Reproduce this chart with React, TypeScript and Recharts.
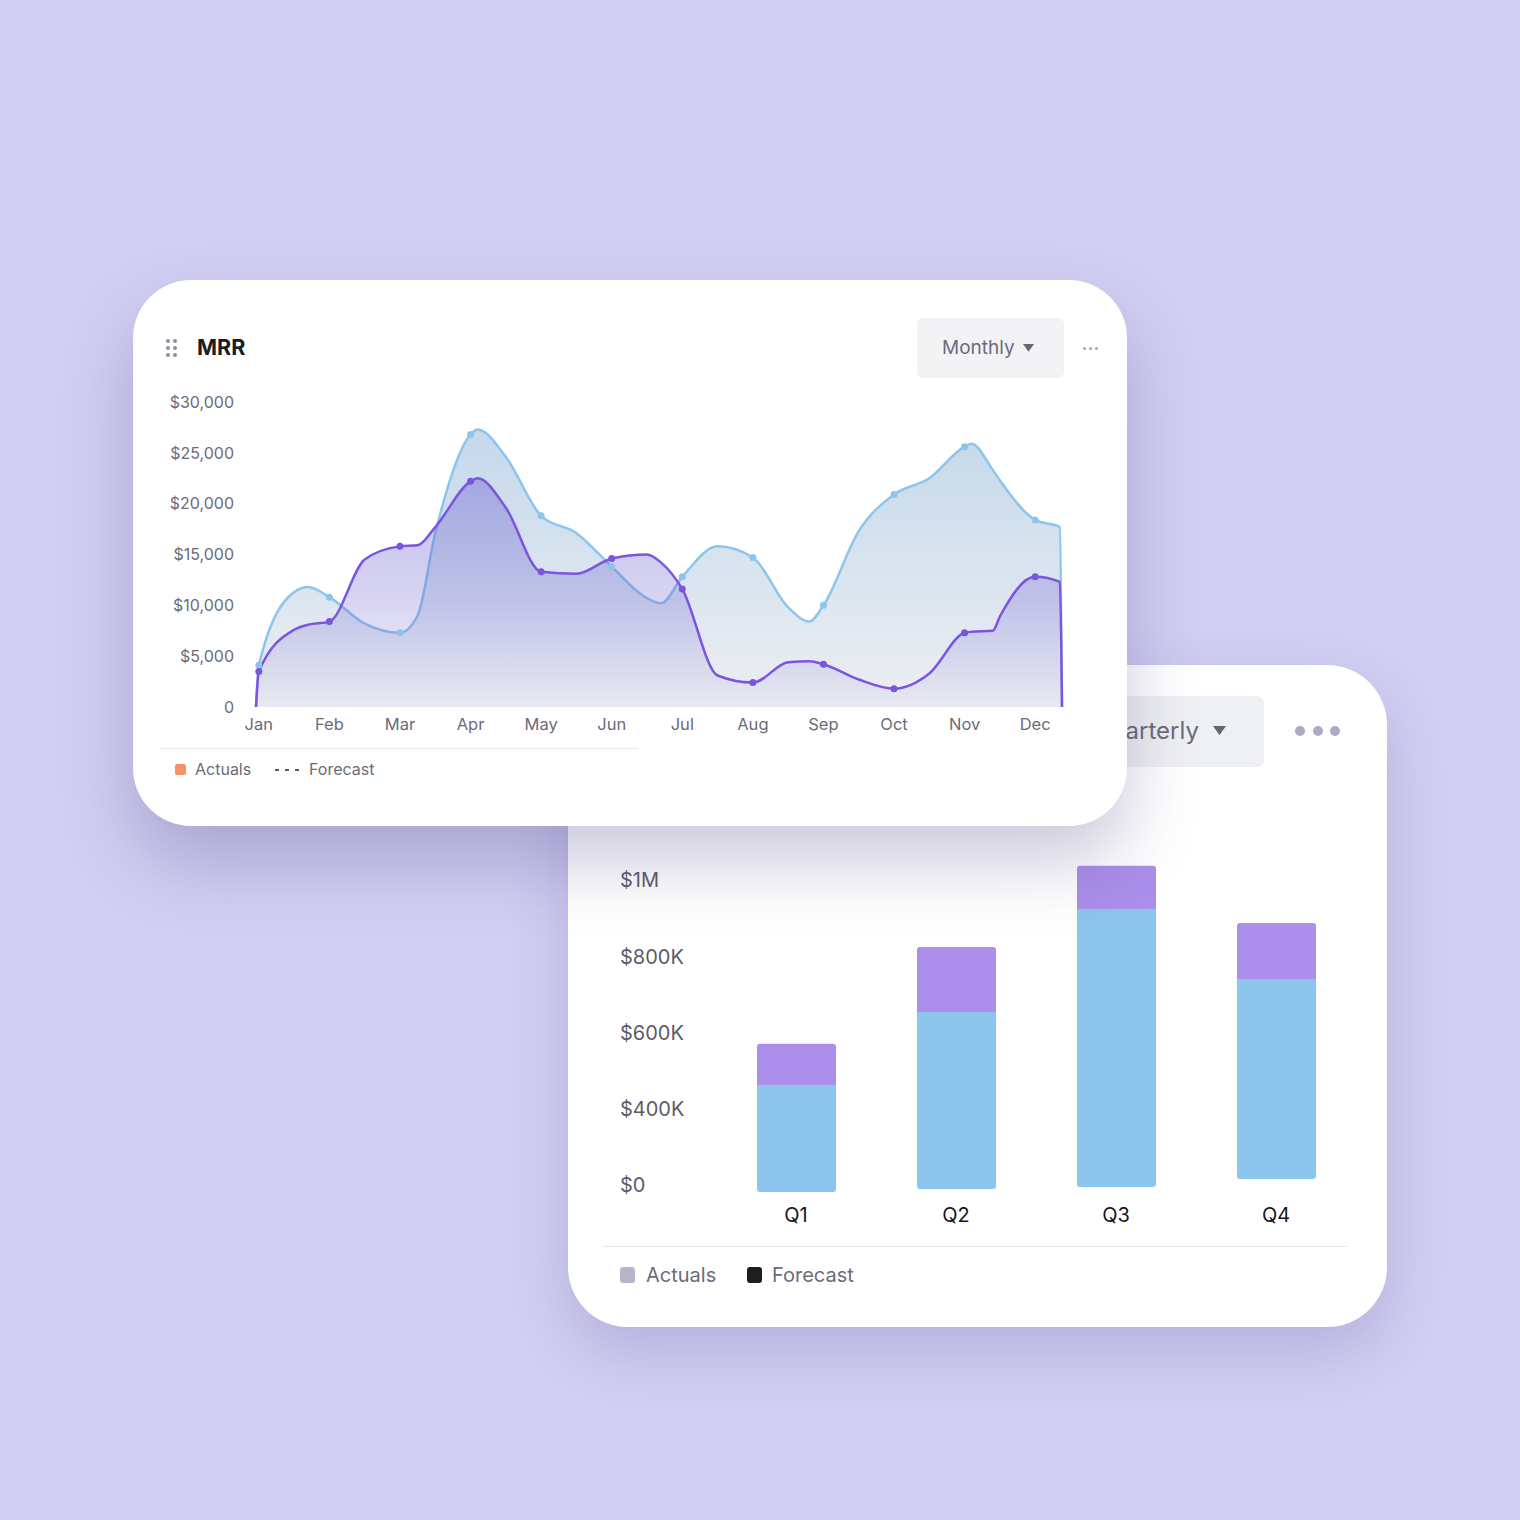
import React from "react";
import {
  AreaChart,
  Area,
  BarChart,
  Bar,
  XAxis,
  YAxis,
} from "recharts";

// MRR (monthly) - x is month index, fractional points read between months
const MONTHS = ["Jan", "Feb", "Mar", "Apr", "May", "Jun", "Jul", "Aug", "Sep", "Oct", "Nov", "Dec"];
const MONTH_TICKS = [0, 1, 2, 3, 4, 5, 6, 7, 8, 9, 10, 11];
const MRR_TICKS = [0, 5000, 10000, 15000, 20000, 25000, 30000];
const MONTH_POS = [
  -0.04, 0, 0.5, 0.7, 1, 1.5, 2, 2.25, 2.5, 3, 3.1, 3.5, 4, 4.5, 5, 5.5, 5.7,
  6, 6.5, 7, 7.5, 7.8, 8, 8.5, 9, 9.5, 10, 10.1, 10.4, 10.5, 11, 11.35, 11.38,
];
const BLUE_MRR = [
  0, 4100, 11300, 11800, 10800, 8200, 7300, 9000, 17100, 26800, 27300, 24600, 18800, 17100, 13800, 10700, 10200,
  12800, 15800, 14700, 9800, 8400, 10000, 17300, 20900, 22500, 25600, 25900, 23300, 22300, 18400, 17700, 0,
];
const PURPLE_MRR = [
  0, 3500, 7600, 8100, 8400, 14500, 15800, 15900, 17700, 22200, 22500, 19600, 13300, 13100, 14600, 15000, 14200,
  11600, 3100, 2400, 4400, 4500, 4200, 2700, 1800, 3300, 7300, 7400, 7500, 8900, 12800, 12300, 0,
];

// Quarterly revenue, in $K
const QUARTERS = ["Q1", "Q2", "Q3", "Q4"];
const BAR_FLOOR = [-24, -14, -7, 19];
const ACTUALS_K = [328, 568, 906, 676];
const FORECAST_K = [135, 213, 142, 184];
const BAR_TICKS = [0, 250, 500, 750, 1000];
const BAR_TICK_LABELS = ["$0", "$400K", "$600K", "$800K", "$1M"];

const mrrData = MONTH_POS.map((m, i) => ({ m, blue: BLUE_MRR[i], purple: PURPLE_MRR[i] }));
const quarterData = QUARTERS.map((q, i) => ({
  q,
  floor: BAR_FLOOR[i],
  actual: ACTUALS_K[i] - BAR_FLOOR[i],
  forecast: FORECAST_K[i],
}));

const BLUE = "#8CC5EE";
const PURPLE = "#7B55E0";
const FONT = "Inter, 'Noto Sans', sans-serif";
const GREY_TEXT = "#6B6B7A";

const monthDot = (color: string) => (p: any) =>
  Number.isInteger(p.payload.m) ? (
    <circle key={`d-${color}-${p.index}`} cx={p.cx} cy={p.cy} r={3.5} fill={color} />
  ) : (
    <g key={`d-${color}-${p.index}`} />
  );

function Caret({ left, top, size }: { left: number; top: number; size: number }) {
  return (
    <svg style={{ position: "absolute", left, top }} width={size} height={size * 0.7}>
      <polygon points={`0,0 ${size},0 ${size / 2},${size * 0.7}`} fill="#666672" />
    </svg>
  );
}

function Label({ left, cy, size, color, weight, children }: any) {
  return (
    <div
      style={{
        position: "absolute",
        left,
        top: cy - size * 0.6,
        fontSize: size,
        lineHeight: `${size * 1.2}px`,
        color,
        fontWeight: weight || 400,
        whiteSpace: "nowrap",
      }}
    >
      {children}
    </div>
  );
}

function MrrCard() {
  return (
    <div
      style={{
        position: "absolute",
        left: 133,
        top: 280,
        width: 994,
        height: 546,
        borderRadius: 58,
        background: "#fff",
        boxShadow: "0 36px 70px rgba(70, 60, 130, 0.28)",
      }}
    >
      {[61, 68, 75].map((y) =>
        [35, 42].map((x) => (
          <div
            key={`${x}-${y}`}
            style={{ position: "absolute", left: x - 2, top: y - 2, width: 4, height: 4, borderRadius: 2, background: "#8E8E9E" }}
          />
        ))
      )}
      <Label left={64} cy={68} size={21.5} color="#1B1B22" weight={700}>
        MRR
      </Label>
      <div style={{ position: "absolute", left: 784, top: 38, width: 147, height: 60, borderRadius: 6, background: "#F3F3F5" }} />
      <Label left={809} cy={68} size={19} color={GREY_TEXT}>
        Monthly
      </Label>
      <Caret left={890} top={64} size={11} />
      {[951, 957, 963].map((x) => (
        <div key={x} style={{ position: "absolute", left: x - 1.5, top: 66.5, width: 3, height: 3, borderRadius: 2, background: "#A3A3B6" }} />
      ))}

      <div style={{ position: "absolute", left: 17, top: 100 }}>
        <AreaChart width={930} height={370} data={mrrData} margin={{ top: 22, right: 18, bottom: 0, left: 0 }}>
          <defs>
            <linearGradient id="blueFill" gradientUnits="userSpaceOnUse" x1="0" y1="45" x2="0" y2="327">
              <stop offset="0%" stopColor="#C4D8EA" />
              <stop offset="100%" stopColor="#EDEFF3" />
            </linearGradient>
            <linearGradient id="purpleFill" gradientUnits="userSpaceOnUse" x1="0" y1="95" x2="0" y2="327">
              <stop offset="0%" stopColor="#6A5ED0" stopOpacity={0.42} />
              <stop offset="55%" stopColor="#6A5ED0" stopOpacity={0.26} />
              <stop offset="100%" stopColor="#6A5ED0" stopOpacity={0.04} />
            </linearGradient>
          </defs>
          <XAxis
            dataKey="m"
            type="number"
            domain={[-0.04, 11.38]}
            ticks={MONTH_TICKS}
            tickFormatter={(v) => MONTHS[v]}
            axisLine={false}
            tickLine={false}
            tickSize={0}
            tickMargin={11}
            height={43}
            tick={{ fontSize: 16.5, fill: GREY_TEXT, fontFamily: FONT }}
          />
          <YAxis
            domain={[0, 30000]}
            ticks={MRR_TICKS}
            tickFormatter={(v) => (v === 0 ? "0" : `$${Number(v).toLocaleString("en-US")}`)}
            axisLine={false}
            tickLine={false}
            tickSize={0}
            tickMargin={22}
            width={106}
            tick={{ fontSize: 16, fill: GREY_TEXT, fontFamily: FONT }}
          />
          <Area
            type="monotone"
            dataKey="blue"
            stroke={BLUE}
            strokeWidth={2.5}
            fill="url(#blueFill)"
            fillOpacity={1}
            dot={monthDot(BLUE)}
            activeDot={false}
            isAnimationActive={false}
          />
          <Area
            type="monotone"
            dataKey="purple"
            stroke={PURPLE}
            strokeWidth={2.5}
            fill="url(#purpleFill)"
            fillOpacity={1}
            dot={monthDot(PURPLE)}
            activeDot={false}
            isAnimationActive={false}
          />
        </AreaChart>
      </div>

      <div style={{ position: "absolute", left: 27, top: 468, width: 478, height: 1, background: "#E7E7EF" }} />
      <div style={{ position: "absolute", left: 42, top: 484, width: 11, height: 11, borderRadius: 2, background: "#F4936B" }} />
      <Label left={62} cy={490} size={16} color={GREY_TEXT}>
        Actuals
      </Label>
      <svg style={{ position: "absolute", left: 142, top: 488 }} width={26} height={4}>
        <line x1={0} y1={2} x2={26} y2={2} stroke="#222" strokeWidth={1.5} strokeDasharray="4 6" />
      </svg>
      <Label left={176} cy={490} size={16} color={GREY_TEXT}>
        Forecast
      </Label>
    </div>
  );
}

function QuarterCard() {
  return (
    <div
      style={{
        position: "absolute",
        left: 568,
        top: 665,
        width: 819,
        height: 662,
        borderRadius: 60,
        background: "#fff",
        boxShadow: "0 24px 60px rgba(70, 60, 130, 0.2)",
      }}
    >
      <div style={{ position: "absolute", left: 470, top: 31, width: 226, height: 71, borderRadius: 8, background: "#EFF0F3" }} />
      <Label left={525} cy={66} size={24} color={GREY_TEXT}>
        Quarterly
      </Label>
      <Caret left={645} top={61} size={13} />
      {[732, 750, 767].map((x) => (
        <div key={x} style={{ position: "absolute", left: x - 5, top: 61, width: 10, height: 10, borderRadius: 5, background: "#ACA9C2" }} />
      ))}

      <div style={{ position: "absolute", left: 32, top: 165 }}>
        <BarChart width={770} height={420} data={quarterData} margin={{ top: 20, right: 14, bottom: 0, left: 0 }}>
          <XAxis
            dataKey="q"
            axisLine={false}
            tickLine={false}
            tickSize={0}
            tickMargin={8}
            height={50}
            tick={{ fontSize: 20, fill: "#16161C", fontFamily: FONT }}
          />
          <YAxis
            type="number"
            domain={[-50, 1100]}
            ticks={BAR_TICKS}
            axisLine={false}
            tickLine={false}
            width={116}
            tick={(p: any) => (
              <text
                key={`yt-${p.index}`}
                x={20}
                y={p.y}
                dy="0.35em"
                textAnchor="start"
                fontSize={20}
                fill="#5C5C68"
                fontFamily={FONT}
              >
                {BAR_TICK_LABELS[p.index]}
              </text>
            )}
          />
          <Bar dataKey="floor" stackId="q" fill="transparent" barSize={79} isAnimationActive={false} />
          <Bar dataKey="actual" stackId="q" fill={BLUE} radius={[0, 0, 3, 3]} barSize={79} isAnimationActive={false} />
          <Bar dataKey="forecast" stackId="q" fill="#AB8FEA" radius={[3, 3, 0, 0]} barSize={79} isAnimationActive={false} />
        </BarChart>
      </div>

      <div style={{ position: "absolute", left: 35, top: 581, width: 744, height: 1, background: "#E5E5EC" }} />
      <div style={{ position: "absolute", left: 52, top: 602, width: 15, height: 16, borderRadius: 3, background: "#B7B5CE" }} />
      <Label left={78} cy={610} size={20} color={GREY_TEXT}>
        Actuals
      </Label>
      <div style={{ position: "absolute", left: 179, top: 602, width: 15, height: 16, borderRadius: 3, background: "#1E1E22" }} />
      <Label left={204} cy={610} size={20} color={GREY_TEXT}>
        Forecast
      </Label>
    </div>
  );
}

export default function App() {
  return (
    <div
      style={{
        position: "absolute",
        left: 0,
        top: 0,
        width: 1520,
        height: 1520,
        overflow: "hidden",
        background: "#D1CFF2",
        fontFamily: FONT,
      }}
    >
      <QuarterCard />
      <MrrCard />
    </div>
  );
}
